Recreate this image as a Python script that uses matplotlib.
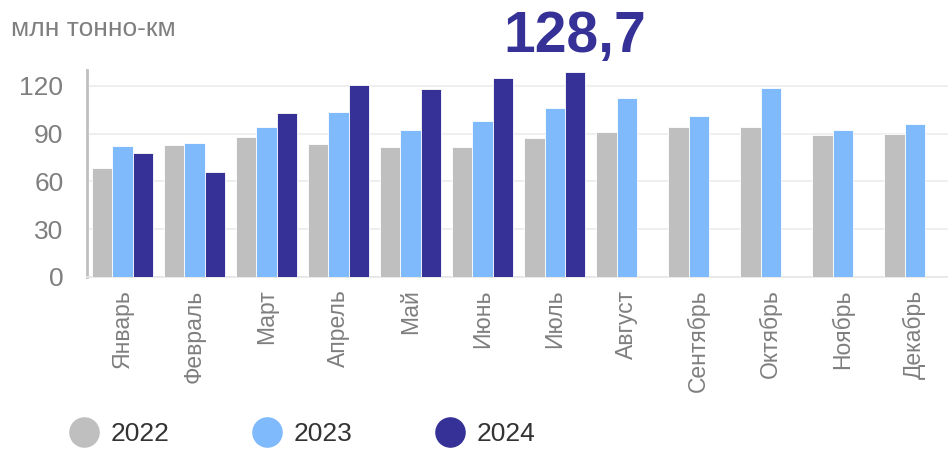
import numpy as np
import matplotlib.pyplot as plt
from matplotlib.lines import Line2D

plt.rcParams['font.family'] = ['Liberation Sans', 'DejaVu Sans']

months = ['Январь', 'Февраль', 'Март', 'Апрель', 'Май', 'Июнь', 'Июль',
          'Август', 'Сентябрь', 'Октябрь', 'Ноябрь', 'Декабрь']
v2022 = [68.3, 82.7, 87.9, 83.3, 81.6, 81.4, 87.2, 90.8, 94.1, 94.3, 89.1, 89.9]
v2023 = [82.1, 84.4, 94.2, 103.8, 92.2, 97.7, 106.2, 112.6, 101.4, 118.9, 92.4, 96.4]
v2024 = [77.7, 66.0, 103.0, 120.8, 118.3, 125.2, 128.7]
years = ['2022', '2023', '2024']
colors = ['#bfbfbf', '#7fbafc', '#353196']
peak_label = '128,7'

fig = plt.figure(figsize=(9.48, 4.49), dpi=100)
ax = fig.add_axes([87 / 948, 1 - 277 / 449, 1 - 87 / 948, 207 / 449])

x = np.arange(len(months))
w = 0.278
for i, (vals, c) in enumerate(zip([v2022, v2023, v2024], colors)):
    xs = x[:len(vals)] + (i - 1) * w
    ax.bar(xs, vals, width=w, color=c, edgecolor='white', linewidth=0.6, zorder=3)

ax.set_xlim(-0.493, 11.465)
ax.set_ylim(0, 130)
ax.set_yticks([0, 30, 60, 90, 120])
ax.grid(axis='y', color='#ececec', linewidth=1.2, zorder=0)
for s in ['top', 'right']:
    ax.spines[s].set_visible(False)
ax.spines['left'].set_color('#c0c0c0')
ax.spines['left'].set_linewidth(2)
ax.spines['bottom'].set_color('#e6e6e6')
ax.spines['bottom'].set_linewidth(1.2)
ax.tick_params(axis='y', length=0, labelsize=19, labelcolor='#7f7f7f', pad=17)
ax.tick_params(axis='x', length=0, labelsize=16.5, labelcolor='#7f7f7f', pad=9)
ax.set_xticks(x)
ax.set_xticklabels(months, rotation=90, va='top', ha='center')

fig.text(11 / 948, 1 - 29 / 449, 'млн тонно-км', fontsize=19, color='#7f7f7f',
         va='center', ha='left')
fig.text(575 / 948, 1 - 37 / 449, peak_label, fontsize=41, fontweight='bold',
         color='#353196', va='center', ha='center')

handles = [Line2D([], [], marker='o', linestyle='none', markersize=21,
                  markerfacecolor=c, markeredgecolor=c) for c in colors]
fig.legend(handles, years, loc='center left', bbox_to_anchor=(42 / 948, 1 - 434 / 449),
           ncol=3, frameon=False, fontsize=19, labelcolor='#333333',
           handletextpad=0.3, columnspacing=3.0, handlelength=1.4)

fig.savefig('out.png', dpi=100)
